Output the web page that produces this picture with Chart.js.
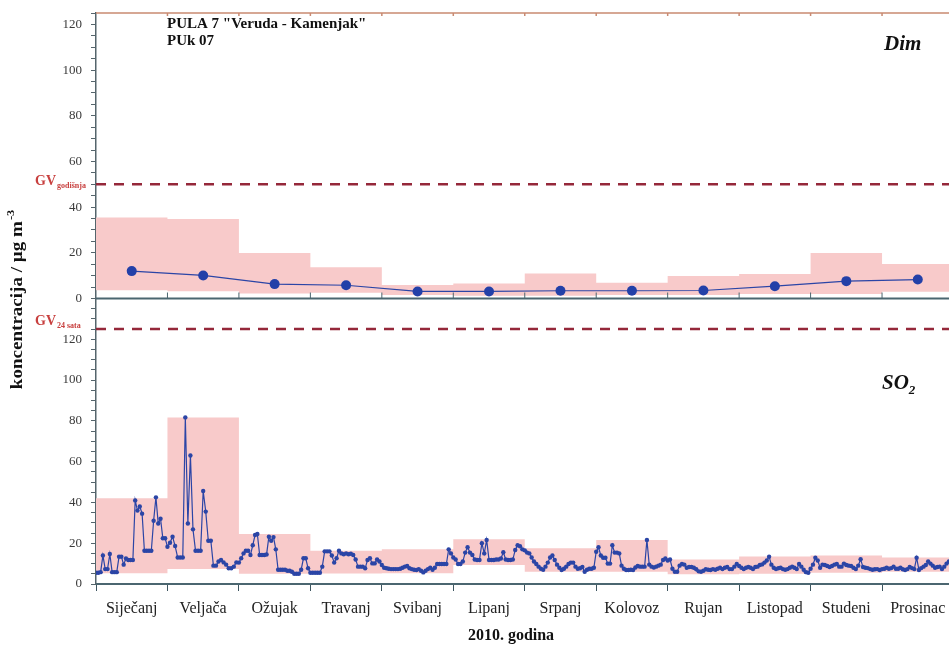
<!DOCTYPE html>
<html lang="hr">
<head>
<meta charset="UTF-8">
<title>PULA 7 Veruda - Kamenjak, 2010.</title>
<style>
  html, body { margin: 0; padding: 0; background: #fff; overflow: hidden; }
  #wrap { width: 949px; height: 645px; overflow: hidden; }
</style>
<script src="https://cdn.jsdelivr.net/npm/chart.js"></script>
</head>
<body>
<div id="wrap"><canvas id="chart" width="960" height="645"></canvas></div>
<script>
// month names on the x axis
const months = ['Siječanj', 'Veljača', 'Ožujak', 'Travanj', 'Svibanj', 'Lipanj',
                'Srpanj', 'Kolovoz', 'Rujan', 'Listopad', 'Studeni', 'Prosinac'];

// Dim - monthly means and monthly min/max range
const dimMean = [12, 10.1, 6.3, 5.8, 3.1, 3.1, 3.4, 3.4, 3.5, 5.4, 7.6, 8.3];
const dimMax  = [35.5, 34.8, 19.9, 13.7, 5.9, 6.6, 11, 6.9, 9.9, 10.7, 19.9, 15.1];
const dimMin  = [3.6, 3.2, 2.2, 2.5, 1.5, 1.2, 1.2, 1.5, 1.5, 2, 2, 3];

// SO2 - daily values per month
const so2Jan = [5.5, 5.5, 5.8, 14, 7.3, 7.3, 14.7, 5.8, 5.8, 5.8, 13.4, 13.4, 9.5, 12.5, 11.8, 11.8, 11.8, 41, 36, 38,
                34.5, 16.3, 16.3, 16.3, 16.3, 31, 42.5, 29.7, 32, 22.4, 22.4];
const so2Feb = [18.3, 20.2, 23.2, 18.6, 13, 13, 13, 81.7, 29.7, 63, 26.8, 16.3, 16.3, 16.3, 45.6, 35.5, 21.2, 21.2, 9, 9,
                11, 11.8, 10.6, 9.5, 7.7, 7.7, 8.5, 10.6];
const so2Mar = [10.5, 12.6, 15, 16.3, 16.3, 14.2, 19, 24, 24.5, 14.2, 14.2, 14.2, 14.5, 23.2, 21.2, 23, 17, 7, 7, 7,
                7, 6.5, 6.5, 6, 5, 5, 5, 7, 12.6, 12.6, 7.7];
const so2Apr = [5.5, 5.5, 5.5, 5.5, 5.5, 8.5, 16, 16, 16, 14, 10.5, 12.6, 16.3, 15, 14.6, 15, 14.6, 14.8, 14.2, 12,
                8.5, 8.5, 8.5, 7.7, 11.8, 12.6, 10.1, 10.1, 12, 11];
const so2May = [9.3, 8, 7.7, 7.5, 7.3, 7.3, 7.3, 7.3, 7.5, 8, 8.5, 8.8, 7.7, 7.3, 7, 6.9, 7.3, 6.5, 5.7, 6.5,
                7.3, 8, 7, 8, 9.8, 9.8, 9.8, 9.8, 9.8, 17, 15];
const so2Jun = [13, 12, 9.8, 9.8, 11, 15.4, 18, 15.4, 14.2, 12, 11.8, 11.8, 20, 15, 21.6, 11.8, 11.8, 11.8, 12, 12,
                12.5, 15.6, 12, 11.8, 11.8, 12, 16.7, 19, 18.5, 17];
const so2Jul = [16.5, 15.4, 15, 13, 11, 9.8, 8.5, 7.5, 7, 8.5, 10.5, 13, 14, 11.8, 9.5, 8, 6.9, 7.5, 8.5, 9.8,
                10.5, 10.5, 8.5, 7.5, 7.7, 8.3, 6, 7, 7.5, 7.5, 8];
const so2Aug = [15.8, 18, 14, 12.9, 12.9, 10, 10, 19, 15.4, 15.4, 15, 9, 7.5, 6.9, 6.9, 7, 6.9, 8.1, 8.8, 8.5,
                8.5, 8.5, 21.6, 9.5, 8.5, 8.1, 8.5, 9, 9.5, 11.8, 12.5];
const so2Sep = [11.5, 12, 7.5, 6, 6, 9, 9.8, 9.5, 8, 8.3, 8.3, 8, 7.2, 6.2, 6, 6.5, 7.2, 7, 6.9, 7.3,
                7, 7.5, 8, 7.3, 8, 8.3, 7.3, 7.3, 8.5, 9.8];
const so2Oct = [8.8, 8, 7.3, 8, 8.3, 8, 7.3, 8.3, 8.5, 9.3, 9.6, 10.5, 11.5, 13.4, 9.5, 8, 7.3, 7.7, 8, 7.3,
                7, 7.3, 8, 8.5, 8, 7.3, 9.8, 8.5, 7, 5.8, 5.5];
const so2Nov = [7.5, 9.5, 12.9, 11.5, 8, 9.5, 9.3, 8.8, 8.3, 8.8, 9.5, 9.8, 8.5, 8.5, 10, 9.3, 9, 8.8, 8, 7.3,
                9, 12.1, 8.3, 8, 7.8, 7.3, 7, 7.2, 7.3, 6.9];
const so2Dec = [7.3, 7.5, 8, 7.5, 7.8, 8.5, 7.5, 7.5, 8, 7.2, 6.9, 7.3, 8.3, 7.8, 7.3, 12.9, 6.9, 7.8, 8.5, 9.3,
                11, 10, 9, 8, 8.3, 8.5, 7.3, 8.5, 10, 11, 10];
const so2Months = [so2Jan, so2Feb, so2Mar, so2Apr, so2May, so2Jun, so2Jul, so2Aug, so2Sep, so2Oct, so2Nov, so2Dec];

// SO2 - monthly min/max range
const so2Max = [42, 81.7, 24.5, 16.3, 17, 21.9, 17.5, 21.6, 12, 13.5, 14, 13];
const so2Min = [5.3, 7.3, 5, 5.2, 5.3, 9.3, 6, 6, 4.8, 5, 5.5, 6];

// limit values
const gvGodisnja = 50;   // Dim, annual
const gv24sata = 125;    // SO2, 24 hours

const SERIF = "'Liberation Serif', 'Times New Roman', serif";
const BLUE = '#2b45a6';
const PINK = '#f8caca';
const GVRED = '#95283a';

// x position: month index + fraction of the month
const daily = [];
so2Months.forEach((days, m) => {
  days.forEach((v, i) => daily.push({ x: m + i / days.length, y: v }));
});
const monthly = arr => arr.map((v, m) => ({ x: m + 0.5, y: v }));
// step band: value holds from month start to next month start
const steps = arr => arr.map((v, m) => ({ x: m, y: v })).concat([{ x: 12, y: arr[arr.length - 1] }]);
const flat = v => [{ x: 0, y: v }, { x: 12, y: v }];

const bandStyle = {
  stepped: 'before', pointRadius: 0, borderWidth: 0, borderColor: 'rgba(0,0,0,0)',
  backgroundColor: PINK, order: 3
};

// frame lines, limit labels and free texts
const decorations = {
  id: 'decorations',
  afterDatasetsDraw(chart) {
    const { ctx, chartArea: a, scales } = chart;
    const x = scales.x, yD = scales.yDim, yS = scales.ySO2;
    ctx.save();
    // top frame
    ctx.strokeStyle = '#c98a72';
    ctx.lineWidth = 1.5;
    ctx.beginPath();
    ctx.moveTo(a.left, a.top); ctx.lineTo(a.right, a.top);
    for (let m = 1; m < 12; m++) {
      const px = x.getPixelForValue(m);
      ctx.moveTo(px, a.top); ctx.lineTo(px, a.top + 3);
    }
    ctx.stroke();
    // zero line of the upper panel
    const y0 = yD.getPixelForValue(0);
    ctx.strokeStyle = '#4b6670';
    ctx.lineWidth = 2;
    ctx.beginPath();
    ctx.moveTo(a.left, y0); ctx.lineTo(a.right, y0);
    ctx.stroke();
    ctx.lineWidth = 1;
    ctx.beginPath();
    for (let m = 1; m < 12; m++) {
      const px = x.getPixelForValue(m);
      ctx.moveTo(px, y0); ctx.lineTo(px, y0 - 6);
    }
    ctx.stroke();

    // limit labels
    ctx.fillStyle = '#c8403f';
    ctx.textBaseline = 'alphabetic';
    ctx.textAlign = 'left';
    const gvLabel = (yPx, sub) => {
      ctx.font = 'bold 14px ' + SERIF;
      ctx.fillText('GV', 35, yPx);
      const w = ctx.measureText('GV').width;
      ctx.font = 'bold 8px ' + SERIF;
      ctx.fillText(sub, 35 + w + 1, yPx + 3);
    };
    gvLabel(yD.getPixelForValue(gvGodisnja) + 1, 'godišnja');
    gvLabel(yS.getPixelForValue(gv24sata) - 4, '24 sata');

    // station title
    ctx.fillStyle = '#111';
    ctx.font = 'bold 15px ' + SERIF;
    ctx.fillText('PULA 7 "Veruda - Kamenjak"', 167, 28);
    ctx.fillText('PUk 07', 167, 45);

    // panel names
    ctx.font = 'italic bold 21px ' + SERIF;
    ctx.fillText('Dim', 884, 50);
    ctx.fillText('SO', 882, 389);
    const so = ctx.measureText('SO').width;
    ctx.font = 'italic bold 13px ' + SERIF;
    ctx.fillText('2', 882 + so, 394);

    // x axis title
    ctx.font = 'bold 16px ' + SERIF;
    ctx.textAlign = 'center';
    ctx.fillText('2010. godina', 511, 640);

    // y axis title, rotated
    ctx.textAlign = 'left';
    ctx.translate(22, 300);
    ctx.rotate(-Math.PI / 2);
    ctx.scale(1.12, 1);
    ctx.font = 'bold 17px ' + SERIF;
    const main = 'koncentracija / µg m';
    const mw = ctx.measureText(main).width;
    ctx.font = 'bold 11px ' + SERIF;
    const sw = ctx.measureText('-3').width;
    const start = -(mw + sw) / 2;
    ctx.font = 'bold 17px ' + SERIF;
    ctx.fillText(main, start, 0);
    ctx.font = 'bold 11px ' + SERIF;
    ctx.fillText('-3', start + mw + 1, -8);
    ctx.restore();
  }
};

const yTicks = (maxLabel) => ({
  stepSize: 5,
  autoSkip: false,
  padding: 9,
  color: '#3a3a3a',
  font: { family: SERIF, size: 13 },
  callback: v => (v % 20 === 0 && v <= maxLabel) ? v : ''
});

// fixed axis box sizes so the plot area lines up
const fixY = s => { s.width = 96; s.paddingTop = 0; s.paddingBottom = 0; };

new Chart(document.getElementById('chart'), {
  type: 'line',
  data: {
    datasets: [
      { label: 'SO2', data: daily, yAxisID: 'ySO2', borderColor: BLUE, borderWidth: 1.2,
        pointRadius: 2.2, pointBackgroundColor: BLUE, pointBorderWidth: 0, order: 0 },
      { label: 'Dim', data: monthly(dimMean), yAxisID: 'yDim', borderColor: BLUE, borderWidth: 1.2,
        pointRadius: 5, pointBackgroundColor: '#2340a8', pointBorderWidth: 0, order: 0 },
      { label: 'Dim max', data: steps(dimMax), yAxisID: 'yDim', fill: '+1', ...bandStyle },
      { label: 'Dim min', data: steps(dimMin), yAxisID: 'yDim', fill: false, ...bandStyle },
      { label: 'SO2 max', data: steps(so2Max), yAxisID: 'ySO2', fill: '+1', ...bandStyle },
      { label: 'SO2 min', data: steps(so2Min), yAxisID: 'ySO2', fill: false, ...bandStyle },
      { label: 'GV godišnja', data: flat(gvGodisnja), yAxisID: 'yDim', borderColor: GVRED, borderWidth: 2.5,
        borderDash: [10, 8], pointRadius: 0, fill: false, order: 1 },
      { label: 'GV 24 sata', data: flat(gv24sata), yAxisID: 'ySO2', borderColor: GVRED, borderWidth: 2.5,
        borderDash: [10, 8], pointRadius: 0, fill: false, order: 1 }
    ]
  },
  options: {
    responsive: false,
    animation: false,
    layout: { padding: { left: 0, right: 6.5, top: 13, bottom: 0 } },
    plugins: { legend: { display: false }, tooltip: { enabled: false } },
    scales: {
      x: {
        type: 'linear', position: 'bottom', min: 0, max: 12,
        ticks: {
          stepSize: 1, autoSkip: false, maxRotation: 0, padding: 8, labelOffset: 35.7,
          color: '#222', font: { family: SERIF, size: 16 },
          callback: v => months[v] || ''
        },
        grid: { drawOnChartArea: false, tickLength: 7, color: '#3d5560' },
        border: { color: '#4b6670', width: 2 },
        afterFit: s => { s.height = 61; s.paddingLeft = 0; s.paddingRight = 0; }
      },
      ySO2: {
        type: 'linear', position: 'left', stack: 'panels', stackWeight: 1, weight: 1,
        min: 0, max: 140,
        ticks: yTicks(120),
        grid: { drawOnChartArea: false, tickLength: 5, color: '#55656c' },
        border: { color: '#55656c', width: 1.5 },
        afterFit: fixY
      },
      yDim: {
        type: 'linear', position: 'left', stack: 'panels', stackWeight: 1, weight: 2,
        min: 0, max: 125,
        ticks: yTicks(120),
        grid: { drawOnChartArea: false, tickLength: 5, color: '#55656c' },
        border: { color: '#55656c', width: 1.5 },
        afterFit: fixY
      }
    }
  },
  plugins: [decorations]
});
</script>
</body>
</html>
